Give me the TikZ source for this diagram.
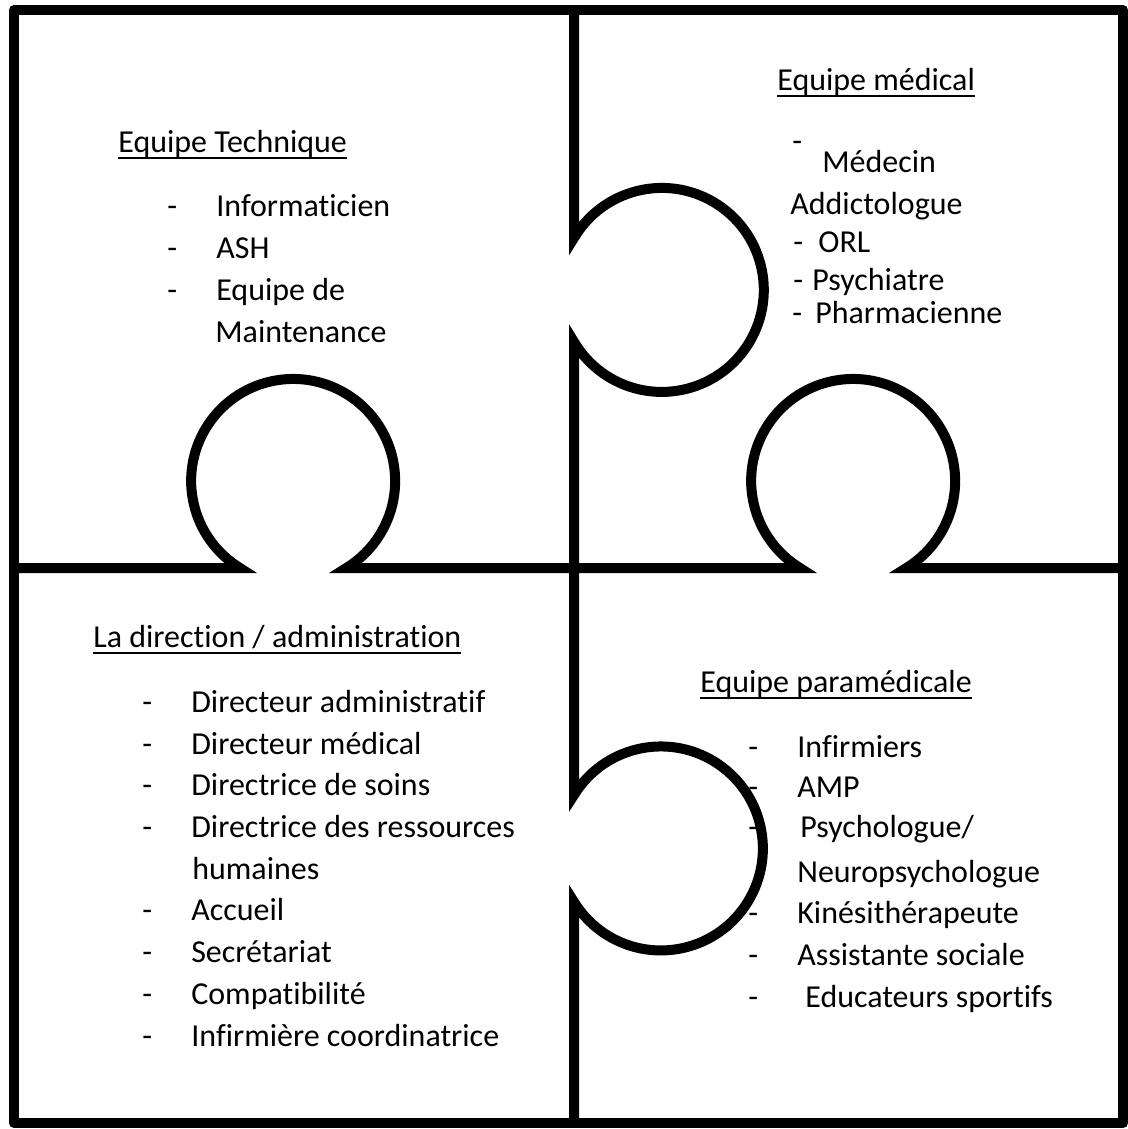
\documentclass[tikz,border=0pt]{standalone}
\usepackage{fontspec}
\setmainfont{Carlito}[Ligatures=NoCommon]

\newsavebox\titrebox
\newcommand{\souligne}[1]{\sbox\titrebox{#1}\rlap{\rule[-4pt]{\wd\titrebox}{1.3pt}}\usebox\titrebox}
\newcommand{\tiret}{\makebox[0.98cm][l]{-}}

\tikzset{
    bord/.style={line width=0.2cm},
    ligne/.style={anchor=base west, inner sep=0pt, font=\fontsize{18.2}{21}\selectfont}
}

\begin{document}
\begin{tikzpicture}[x=0.02cm,y=-0.02cm]
    \useasboundingbox (0,0) rectangle (1128,1129);

    % les pieces du puzzle
    \draw[bord, line join=round] (14,10) rectangle (1123,1123);
    \draw[bord] (574,10) -- (574,238) arc[start angle=210.6, end angle=509.4, radius=102]
        -- (574,795) arc[start angle=211.6, end angle=508.4, radius=102] -- (574,1123);
    \draw[bord] (14,568) -- (240,568) arc[start angle=121.4, end angle=418.6, radius=102]
        -- (800,568) arc[start angle=121.4, end angle=418.6, radius=102] -- (1123,568);

    % equipe technique
    \node[ligne] (tech) at (118,152) {\souligne{Equipe Technique}};
    \node[ligne] (tech1) at (167,216) {\tiret Informaticien};
    \node[ligne] (tech2) at (167,258) {\tiret ASH};
    \node[ligne] (tech3) at (167,300) {\tiret Equipe de};
    \node[ligne] (tech3b) at (215,342) {Maintenance};

    % equipe medicale
    \node[ligne] (med) at (777,90) {\souligne{Equipe médical}};
    \node[ligne] (med0) at (792,151) {-};
    \node[ligne] (med1) at (822,172) {Médecin};
    \node[ligne] (med1b) at (790,214) {Addictologue};
    \node[ligne] (med2) at (793,252) {\makebox[0.5cm][l]{-}ORL};
    \node[ligne] (med3) at (793,290) {\makebox[0.38cm][l]{-}Psychiatre};
    \node[ligne] (med4) at (792,323) {\makebox[0.46cm][l]{-}Pharmacienne};

    % direction
    \node[ligne] (dir) at (93,647) {\souligne{La direction / administration}};
    \node[ligne] (dir1) at (142,712) {\tiret Directeur administratif};
    \node[ligne] (dir2) at (142,754) {\tiret Directeur médical};
    \node[ligne] (dir3) at (142,795) {\tiret Directrice de soins};
    \node[ligne] (dir4) at (142,837) {\tiret Directrice des ressources};
    \node[ligne] (dir4b) at (192,879) {humaines};
    \node[ligne] (dir5) at (142,920) {\tiret Accueil};
    \node[ligne] (dir6) at (142,962) {\tiret Secrétariat};
    \node[ligne] (dir7) at (142,1004) {\tiret Compatibilité};
    \node[ligne] (dir8) at (142,1046) {\tiret Infirmière coordinatrice};

    % equipe paramedicale
    \node[ligne] (para) at (700,692) {\souligne{Equipe paramédicale}};
    \node[ligne] (para1) at (748,757) {\tiret Infirmiers};
    \node[ligne] (para2) at (748,797) {\tiret AMP};
    \node[ligne] (para3) at (748,837) {\tiret\hspace{0.06cm}Psychologue/};
    \node[ligne] (para3b) at (797,882) {Neuropsychologue};
    \node[ligne] (para4) at (748,923) {\tiret Kinésithérapeute};
    \node[ligne] (para5) at (748,965) {\tiret Assistante sociale};
    \node[ligne] (para6) at (748,1007) {\tiret\hspace{0.16cm}Educateurs sportifs};
\end{tikzpicture}
\end{document}
